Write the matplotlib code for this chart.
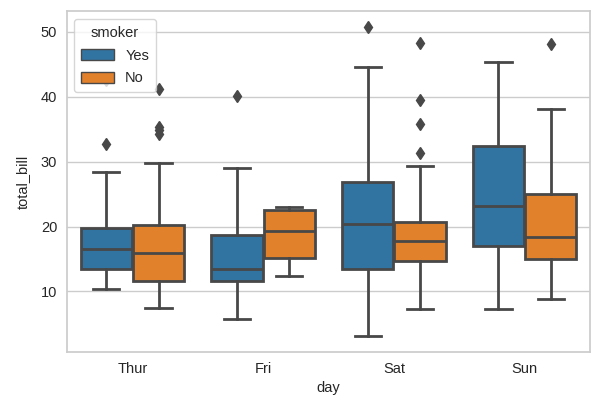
import matplotlib
matplotlib.use("Agg")
import matplotlib.pyplot as plt
from matplotlib.patches import Patch

days = ["Thur", "Fri", "Sat", "Sun"]
smokers = ["Yes", "No"]
colors = {"Yes": "#3274a1", "No": "#e1812c"}

# summary statistics: (whislo, q1, med, q3, whishi)
yes_stats = [
    (10.34, 13.51, 16.47, 19.81, 28.44),
    (5.75, 11.69, 13.42, 18.67, 28.97),
    (3.07, 13.42, 20.39, 26.79, 44.5),
    (7.25, 17.05, 23.10, 32.39, 45.35),
]
yes_fliers = [[32.68, 42.6], [40.17], [50.81], []]
no_stats = [
    (7.51, 11.69, 15.95, 20.27, 29.85),
    (12.46, 15.19, 19.24, 22.6, 22.95),
    (7.25, 14.73, 17.82, 20.73, 29.3),
    (8.77, 14.99, 18.43, 25.00, 38.07),
]
no_fliers = [[34.30, 34.83, 35.26, 41.19], [], [31.27, 35.83, 39.42, 48.33], [48.17]]

plt.rcParams["font.family"] = ["Liberation Sans", "DejaVu Sans"]
plt.rcParams["text.color"] = ".15"
plt.rcParams["xtick.color"] = ".15"
plt.rcParams["ytick.color"] = ".15"
plt.rcParams["axes.labelcolor"] = ".15"

fig = plt.figure(figsize=(6.16, 4.12), dpi=100)
ax = fig.add_axes([67 / 616, 1 - 352 / 412, (590 - 67) / 616, (352 - 11) / 412])
ax.set_facecolor("white")
ax.grid(True, axis="y", color=".8", linewidth=1)
ax.set_axisbelow(True)
for s in ax.spines.values():
    s.set_color(".8")
    s.set_linewidth(1.25)

line_col = "#484848"
lw = 2.0

def to_bxp(stats, fliers):
    out = []
    for (lo, q1, med, q3, hi), fl in zip(stats, fliers):
        out.append(dict(whislo=lo, q1=q1, med=med, q3=q3, whishi=hi, fliers=fl))
    return out

for offs, key, stats, fliers in [(-0.2, "Yes", yes_stats, yes_fliers), (0.2, "No", no_stats, no_fliers)]:
    pos = [i + offs for i in range(len(days))]
    ax.bxp(
        to_bxp(stats, fliers), positions=pos, widths=0.392, patch_artist=True,
        manage_ticks=False,
        boxprops=dict(facecolor=colors[key], edgecolor=line_col, linewidth=lw),
        medianprops=dict(color=line_col, linewidth=lw),
        whiskerprops=dict(color=line_col, linewidth=lw),
        capprops=dict(color=line_col, linewidth=lw),
        flierprops=dict(marker="d", markerfacecolor=line_col, markeredgecolor=line_col, markersize=6),
        capwidths=0.2,
        zorder=2,
    )

ax.set_xlim(-0.5, 3.5)
ax.set_ylim(0.68, 53.2)
ax.set_xticks(range(len(days)))
ax.set_xticklabels(days)
ax.set_yticks([10, 20, 30, 40, 50])
ax.tick_params(axis="both", length=0, labelsize=10.5, pad=7)
ax.set_xlabel("day", fontsize=10.5)
ax.set_ylabel("total_bill", fontsize=10.5, labelpad=8)

handles = [Patch(facecolor=colors[k], edgecolor=line_col, linewidth=1, label=k) for k in smokers]
leg = ax.legend(handles=handles, title="smoker", loc="upper left",
                bbox_to_anchor=((74.3 - 67) / 523, 1 - (19.3 - 11) / 341),
                borderaxespad=0, fontsize=10.5,
                title_fontsize=10.5, frameon=True, fancybox=True, framealpha=0.8,
                edgecolor=".8", handlelength=2.24, handleheight=0.8,
                labelspacing=0.6, borderpad=0.45)
leg.set_zorder(5)

fig.savefig("out.png", dpi=100)
